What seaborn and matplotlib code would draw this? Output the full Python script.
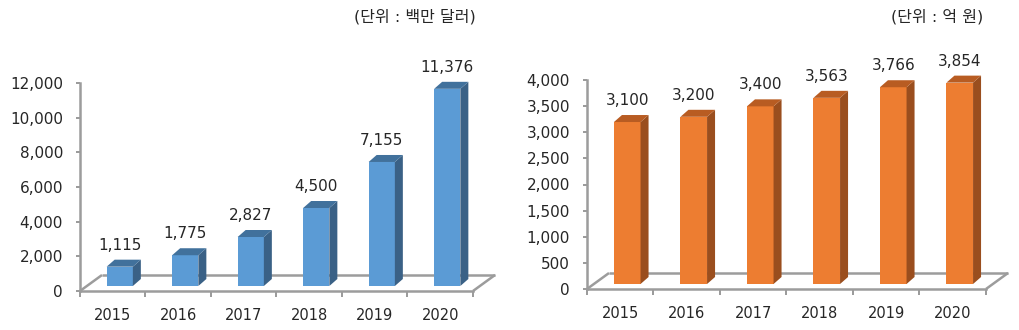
import numpy as np
import pandas as pd
import matplotlib
matplotlib.use("Agg")
import matplotlib.pyplot as plt
from matplotlib.patches import Polygon
from matplotlib.lines import Line2D
from matplotlib.transforms import Affine2D, IdentityTransform
import seaborn as sns

# ---- data -------------------------------------------------------------
years = ["2015", "2016", "2017", "2018", "2019", "2020"]
export_musd = [1115, 1775, 2827, 4500, 7155, 11376]   # 백만 달러
market_krw = [3100, 3200, 3400, 3563, 3766, 3854]     # 억 원
unit_left = "(단위 : 백만 달러)"
unit_right = "(단위 : 억 원)"
left_ticks = list(range(0, 12001, 2000))
right_ticks = list(range(0, 4001, 500))

# ---- style ------------------------------------------------------------
sns.set_style("white")
plt.rcParams["font.family"] = ["DejaVu Sans", "Noto Sans CJK KR"]

DPI = 100
W, H = 1020, 330
fig = plt.figure(figsize=(W / DPI, H / DPI), dpi=DPI)

GRAY = "#9C9C9C"
SHIFT = (7, 5)      # front faces sit a little inside the floor (pixels)
DEPTH = (8, 7)      # bar depth (pixels)
FLOOR = (22, 16)    # floor depth (pixels)


def pt(v):
    """pixels -> points"""
    return v * 72 / DPI


def draw_panel(rect, values, yticks, front, top, side, unit, unit_right_px):
    ax = fig.add_axes(rect)
    df = pd.DataFrame({"year": years, "value": values})
    sns.barplot(data=df, x="year", y="value", color=front, saturation=1,
                width=0.4, ax=ax, zorder=3, linewidth=0)
    ax.set_xlim(-0.5, len(years) - 0.5)
    ax.set_ylim(yticks[0], yticks[-1])
    ax.set_autoscale_on(False)

    # axes, ticks
    sns.despine(ax=ax)
    for s in ("left", "bottom"):
        ax.spines[s].set_color(GRAY)
        ax.spines[s].set_linewidth(pt(2.5))
        ax.spines[s].set_zorder(4)
    ax.set_yticks(yticks)
    ax.set_yticklabels([f"{t:,}" for t in yticks], fontsize=11)
    ax.tick_params(axis="y", left=True, length=pt(4), width=pt(2),
                   color=GRAY, pad=pt(13))
    ax.set_xticks(range(len(years)))
    ax.set_xticklabels(years, fontsize=10.5)
    ax.set_xticks(np.arange(-0.5, len(years)), minor=True)
    ax.tick_params(axis="x", which="major", bottom=False, length=0, pad=pt(17))
    ax.tick_params(axis="x", which="minor", bottom=True, length=pt(6),
                   width=pt(2), color=GRAY)
    ax.set_xlabel("")
    ax.set_ylabel("")

    ident = IdentityTransform()
    td = ax.transData

    # floor (back edge and sides), drawn behind the bars
    (x0d, y0d), (x1d, _) = td.transform([(-0.5, 0), (len(years) - 0.5, 0)])
    fx, fy = FLOOR
    for xs, ys in (([x0d + fx, x1d + fx], [y0d + fy, y0d + fy]),
                   ([x0d, x0d + fx], [y0d, y0d + fy]),
                   ([x1d, x1d + fx], [y0d, y0d + fy])):
        ln = Line2D(xs, ys, color=GRAY, lw=pt(2.5), transform=ident,
                    zorder=2, solid_capstyle="butt")
        ax.add_artist(ln)
        ln.set_clip_on(False)

    # 3D bar faces, built from each bar that seaborn drew
    sx, sy = SHIFT
    dx, dy = DEPTH
    for patch, v in zip(ax.patches, values):
        patch.set_transform(td + Affine2D().translate(sx, sy))
        patch.set_clip_on(False)
        bx, bw, bh = patch.get_x(), patch.get_width(), patch.get_height()
        (ax0, ay0), (ax1, ay1) = td.transform([(bx, 0), (bx + bw, bh)])
        ax0 += sx; ax1 += sx; ay0 += sy; ay1 += sy
        side_poly = Polygon([(ax1, ay0), (ax1 + dx, ay0 + dy),
                             (ax1 + dx, ay1 + dy), (ax1, ay1)],
                            closed=True, facecolor=side, edgecolor="none",
                            transform=ident, zorder=3)
        top_poly = Polygon([(ax0, ay1), (ax1, ay1), (ax1 + dx, ay1 + dy),
                            (ax0 + dx, ay1 + dy)],
                           closed=True, facecolor=top, edgecolor="none",
                           transform=ident, zorder=3)
        for p in (side_poly, top_poly):
            ax.add_artist(p)
            p.set_clip_on(False)
        ax.annotate(f"{v:,}", xy=(bx + bw / 2, bh),
                    xytext=(pt(sx), pt(sy + 17)), textcoords="offset points",
                    ha="center", va="baseline", fontsize=11,
                    annotation_clip=False)

    fig.text(unit_right_px / W, 1 - 17 / H, unit, ha="right", va="center",
             fontsize=11.5)
    return ax


draw_panel([80 / W, (H - 291) / H, 393 / W, 208 / H], export_musd, left_ticks,
           "#5B9BD5", "#41719C", "#3A6186", unit_left, 476)
draw_panel([587 / W, (H - 289) / H, 399 / W, 209 / H], market_krw, right_ticks,
           "#ED7D31", "#B85C22", "#9A4E1E", unit_right, 983)

fig.savefig("out.png", dpi=DPI)
